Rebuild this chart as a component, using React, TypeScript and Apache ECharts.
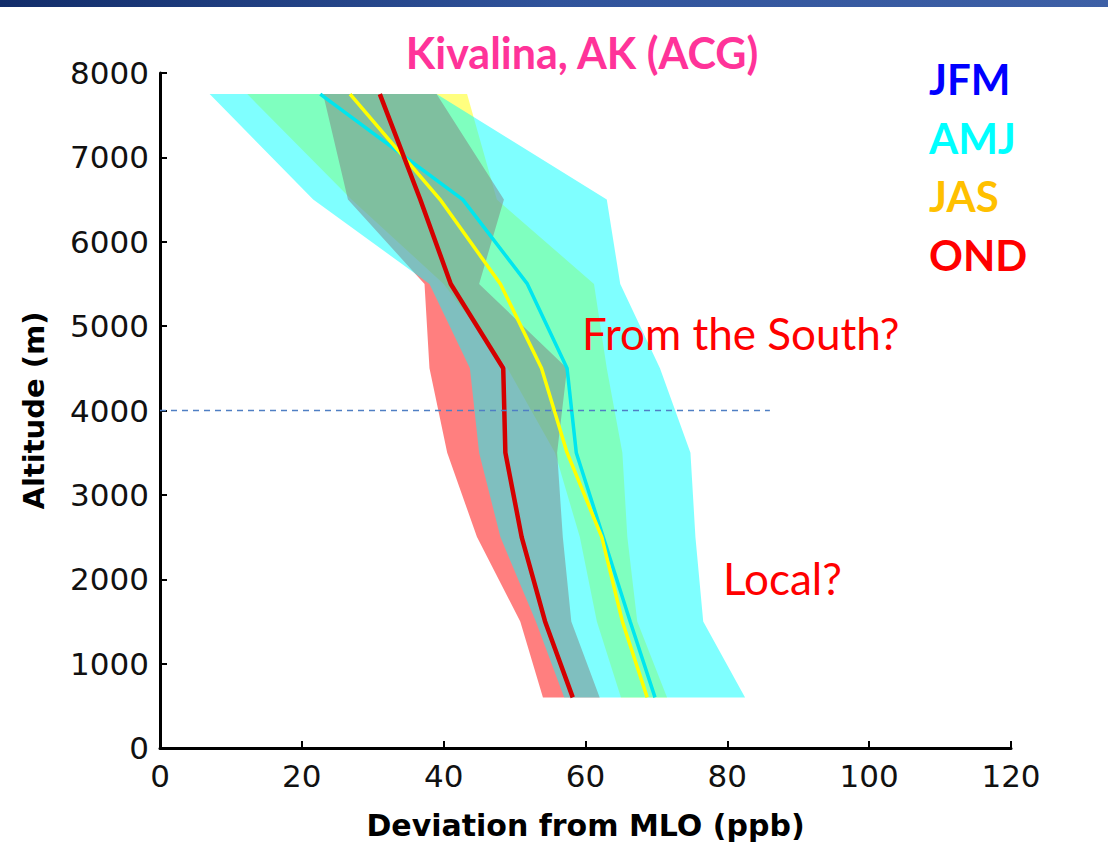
import React, { useEffect, useRef } from "react";
import * as echarts from "echarts";

// Altitude levels (m)
const levels = [600, 1500, 2500, 3500, 4500, 5500, 6500, 7750];

// Mean profiles (ppb)
const amjMean = [69.8, 66.3, 62.5, 58.7, 57.4, 51.8, 42.7, 22.6];
const jasMean = [68.7, 65.2, 62.3, 57.4, 53.8, 48, 39.5, 26.8];
const ondMean = [58.2, 54.3, 51, 48.7, 48.4, 41, 36.7, 31];

// Spread bands (ppb)
const amjLow = [57, 53, 48, 45, 43.7, 38, 21.6, 7];
const amjHigh = [82.5, 76.6, 75.5, 74.8, 70.5, 64.9, 63, 39];
const jasLow = [65, 61.6, 59.2, 55.7, 49, 40, 27, 12.3];
const jasHigh = [71.5, 67.3, 65.9, 65.2, 63, 61.2, 47.5, 43.3];
const ondLow = [54, 50.8, 44.7, 40.5, 38, 37.3, 26.5, 23];
const ondHigh = [62, 58, 56.8, 56, 57.4, 45, 48.5, 39];

// Reference line
const refLine = [[0, 4000], [86, 4000]];

const xTicks = { min: 0, max: 120, interval: 20 };
const yTicks = { min: 0, max: 8000, interval: 1000 };

const legendItems = [
  { name: "JFM", color: "#0000ff" },
  { name: "AMJ", color: "#00ffff" },
  { name: "JAS", color: "#ffc000" },
  { name: "OND", color: "#ff0000" },
];

function band(name: string, low: number[], high: number[], fill: string) {
  return {
    type: "custom",
    name,
    silent: true,
    z: 1,
    data: levels.map((a, i) => [low[i], high[i], a]),
    encode: { x: [0, 1], y: 2 },
    renderItem: (params: any, api: any) => {
      if (params.dataIndex !== 0) return { type: "group", children: [] };
      const pts: number[][] = [];
      for (let i = 0; i < levels.length; i++) pts.push(api.coord([low[i], levels[i]]));
      for (let i = levels.length - 1; i >= 0; i--) pts.push(api.coord([high[i], levels[i]]));
      return { type: "polygon", shape: { points: pts }, style: { fill } };
    },
  };
}

function profile(name: string, mean: number[], color: string, width: number) {
  return {
    type: "line",
    name,
    z: 3,
    symbol: "none",
    data: levels.map((a, i) => [mean[i], a]),
    lineStyle: { color, width },
  };
}

export default function App() {
  const ref = useRef<HTMLDivElement>(null);
  useEffect(() => {
    if (!ref.current) return;
    const chart = echarts.init(ref.current, null, { renderer: "svg" });
    const axisFont = "'DejaVu Sans', 'Liberation Sans', sans-serif";
    const textFont = "Lato, 'Open Sans', sans-serif";
    chart.setOption({
      animation: false,
      backgroundColor: "#ffffff",
      grid: { left: 160, right: 97, top: 73, bottom: 95 },
      xAxis: {
        type: "value",
        ...xTicks,
        name: "Deviation from MLO (ppb)",
        nameLocation: "middle",
        nameGap: 62,
        nameTextStyle: { fontFamily: axisFont, fontWeight: "bold", fontSize: 30, color: "#000" },
        axisLine: { show: true, onZero: false, lineStyle: { color: "#000", width: 3 } },
        axisTick: { show: true, inside: true, length: 7, lineStyle: { color: "#000", width: 2 } },
        axisLabel: {
          fontFamily: axisFont,
          fontSize: 31,
          color: "#111",
          margin: 12,
          formatter: (v: number) => String(v),
        },
        splitLine: { show: false },
      },
      yAxis: {
        type: "value",
        ...yTicks,
        name: "Altitude (m)",
        nameLocation: "middle",
        nameGap: 112,
        nameRotate: 90,
        nameTextStyle: { fontFamily: axisFont, fontWeight: "bold", fontSize: 29, color: "#000" },
        axisLine: { show: true, onZero: false, lineStyle: { color: "#000", width: 3 } },
        axisTick: { show: true, inside: true, length: 7, lineStyle: { color: "#000", width: 2 } },
        axisLabel: {
          fontFamily: axisFont,
          fontSize: 31,
          color: "#111",
          margin: 11,
          formatter: (v: number) => String(v),
        },
        splitLine: { show: false },
      },
      series: [
        band("JAS band", jasLow, jasHigh, "rgba(255,255,0,0.5)"),
        band("OND band", ondLow, ondHigh, "rgba(255,0,0,0.5)"),
        band("AMJ band", amjLow, amjHigh, "rgba(0,255,255,0.5)"),
        profile("AMJ", amjMean, "#00e6ee", 3.5),
        profile("JAS", jasMean, "#ffff00", 3.5),
        profile("OND", ondMean, "#d40000", 4.5),
        {
          type: "line",
          name: "ref",
          z: 4,
          symbol: "none",
          data: refLine,
          lineStyle: { color: "#4f7fc4", width: 1.5, type: [6, 5] },
        },
      ],
      graphic: [
        {
          type: "rect",
          left: 0,
          top: 0,
          z: 100,
          shape: { width: 1108, height: 7 },
          style: {
            fill: new echarts.graphic.LinearGradient(0, 0, 1, 0, [
              { offset: 0, color: "#122d6a" },
              { offset: 0.5, color: "#30539b" },
              { offset: 1, color: "#3e60a6" },
            ]),
          },
        },
        {
          type: "text",
          x: 582,
          y: 52,
          z: 100,
          style: {
            text: "Kivalina, AK (ACG)",
            fill: "#ff3399",
            font: "bold 43px " + textFont,
            align: "center",
            verticalAlign: "middle",
          },
        },
        ...legendItems.map((it, i) => ({
          type: "text",
          x: 929,
          y: 79 + i * 58.5,
          z: 100,
          style: {
            text: it.name,
            fill: it.color,
            font: "bold 42px " + textFont,
            align: "left",
            verticalAlign: "middle",
          },
        })),
        {
          type: "text",
          x: 582,
          y: 333,
          z: 100,
          style: {
            text: "From the South?",
            fill: "#ff0000",
            font: "44px " + textFont,
            align: "left",
            verticalAlign: "middle",
          },
        },
        {
          type: "text",
          x: 723,
          y: 578,
          z: 100,
          style: {
            text: "Local?",
            fill: "#ff0000",
            font: "44px " + textFont,
            align: "left",
            verticalAlign: "middle",
          },
        },
      ],
    });
    return () => chart.dispose();
  }, []);
  return (
    <div
      ref={ref}
      style={{ position: "fixed", left: 0, top: 0, width: 1108, height: 845, background: "#fff" }}
    />
  );
}
